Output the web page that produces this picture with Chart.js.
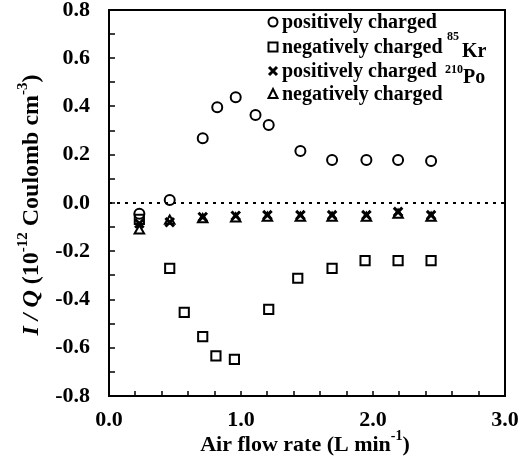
<!DOCTYPE html>
<html>
<head>
<meta charset="utf-8">
<script src="https://cdn.jsdelivr.net/npm/chart.js@4.4.1/dist/chart.umd.min.js"></script>
<style>
  html, body { margin: 0; padding: 0; background: #fff; }
  #wrap { width: 524px; height: 474px; }
</style>
</head>
<body>
<div id="wrap"><canvas id="grafico" width="524" height="474"></canvas></div>
<script>
// datos (I/Q vs caudal de aire)
const xPosKr = [0.23, 0.46, 0.71, 0.82, 0.96, 1.11, 1.21, 1.45, 1.69, 1.95, 2.19, 2.44];
const yPosKr = [-0.045, 0.012, 0.268, 0.397, 0.438, 0.365, 0.323, 0.216, 0.178, 0.178, 0.178, 0.174];

const xNegKr = [0.23, 0.46, 0.57, 0.71, 0.81, 0.95, 1.21, 1.43, 1.69, 1.94, 2.19, 2.44];
const yNegKr = [-0.068, -0.271, -0.453, -0.554, -0.634, -0.648, -0.441, -0.312, -0.271, -0.239, -0.239, -0.239];

const xPosPo = [0.23, 0.46, 0.71, 0.96, 1.2, 1.45, 1.69, 1.95, 2.19, 2.44];
const yPosPo = [-0.085, -0.08, -0.058, -0.053, -0.05, -0.05, -0.05, -0.05, -0.037, -0.05];

const xNegPo = [0.23, 0.46, 0.71, 0.96, 1.2, 1.45, 1.69, 1.95, 2.19, 2.44];
const yNegPo = [-0.115, -0.075, -0.068, -0.065, -0.062, -0.062, -0.062, -0.062, -0.05, -0.062];

const lineaCero = [0, 3];

const FUENTE = "'Liberation Serif', 'Times New Roman', serif";

function puntos(xs, ys) {
  return xs.map((x, i) => ({ x: x, y: ys[i] }));
}

// dibuja texto con superindices, centrado en el origen actual
function dibujarRuns(ctx, runs, size) {
  let total = 0;
  runs.forEach(r => {
    ctx.font = (r.italic ? "italic " : "") + "bold " + (r.sup ? Math.round(size * 0.62) : size) + "px " + FUENTE;
    r.w = ctx.measureText(r.t).width;
    total += r.w;
  });
  let x = -total / 2;
  runs.forEach(r => {
    ctx.font = (r.italic ? "italic " : "") + "bold " + (r.sup ? Math.round(size * 0.62) : size) + "px " + FUENTE;
    const dy = r.sup ? -size * 0.38 : 0;
    ctx.fillText(r.t, x, dy);
    x += r.w;
  });
}

function marcador(ctx, estilo, x, y) {
  ctx.save();
  ctx.strokeStyle = "#000";
  ctx.lineWidth = 2;
  ctx.beginPath();
  if (estilo === "circle") {
    ctx.arc(x, y, 4.5, 0, Math.PI * 2);
  } else if (estilo === "rect") {
    ctx.rect(x - 4.5, y - 4.5, 9, 9);
  } else if (estilo === "crossRot") {
    ctx.lineWidth = 3;
    ctx.moveTo(x - 4, y - 4); ctx.lineTo(x + 4, y + 4);
    ctx.moveTo(x + 4, y - 4); ctx.lineTo(x - 4, y + 4);
  } else if (estilo === "triangle") {
    ctx.moveTo(x, y - 5); ctx.lineTo(x + 4.5, y + 4); ctx.lineTo(x - 4.5, y + 4); ctx.closePath();
  }
  ctx.stroke();
  ctx.restore();
}

const pluginMarco = {
  id: "marco",
  afterDraw(chart) {
    const ctx = chart.ctx;
    const a = chart.chartArea;
    const sx = chart.scales.x;
    const sy = chart.scales.y;
    ctx.save();
    ctx.strokeStyle = "#000";
    ctx.lineWidth = 2;
    ctx.strokeRect(a.left, a.top, a.right - a.left, a.bottom - a.top);

    // marcas hacia adentro
    ctx.lineWidth = 1.5;
    ctx.beginPath();
    sx.ticks.forEach(t => {
      const px = Math.round(sx.getPixelForValue(t.value));
      ctx.moveTo(px, a.bottom);
      ctx.lineTo(px, a.bottom - 5);
    });
    sy.ticks.forEach(t => {
      const py = Math.round(sy.getPixelForValue(t.value));
      ctx.moveTo(a.left, py);
      ctx.lineTo(a.left + 6, py);
    });
    ctx.stroke();

    // titulos de ejes
    ctx.fillStyle = "#000";
    ctx.textBaseline = "middle";
    ctx.textAlign = "left";
    ctx.save();
    ctx.translate(305, 445);
    dibujarRuns(ctx, [
      { t: "Air flow rate (L min" },
      { t: "-1", sup: true },
      { t: ")" }
    ], 22);
    ctx.restore();

    ctx.save();
    ctx.translate(32, 205);
    ctx.rotate(-Math.PI / 2);
    dibujarRuns(ctx, [
      { t: "I / Q", italic: true },
      { t: " (10" },
      { t: "-12", sup: true },
      { t: " Coulomb cm" },
      { t: "-3", sup: true },
      { t: ")" }
    ], 24);
    ctx.restore();

    // leyenda
    const filas = [
      ["circle", "positively charged", 28],
      ["rect", "negatively charged", 53],
      ["crossRot", "positively charged", 77],
      ["triangle", "negatively charged", 100]
    ];
    ctx.textBaseline = "alphabetic";
    ctx.font = "bold 20px " + FUENTE;
    filas.forEach(f => {
      marcador(ctx, f[0], 273, f[2] - 6);
      ctx.fillText(f[1], 282, f[2]);
    });
    ctx.font = "bold 12px " + FUENTE;
    ctx.fillText("85", 447, 40);
    ctx.fillText("210", 445, 73);
    ctx.font = "bold 20px " + FUENTE;
    ctx.fillText("Kr", 462, 57);
    ctx.fillText("Po", 463, 83);
    ctx.restore();
  }
};

const sinPadding = s => {
  s.paddingTop = 0;
  s.paddingBottom = 0;
  s.paddingLeft = 0;
  s.paddingRight = 0;
};

const ctx = document.getElementById("grafico").getContext("2d");

const grafico = new Chart(ctx, {
  type: "scatter",
  data: {
    datasets: [
      {
        type: "line",
        data: lineaCero.map(x => ({ x: x, y: 0 })),
        borderColor: "#000",
        borderWidth: 2,
        borderDash: [3, 5],
        pointRadius: 0
      },
      {
        label: "positively charged 85Kr",
        data: puntos(xPosKr, yPosKr),
        pointStyle: "circle",
        radius: 5,
        borderWidth: 2,
        borderColor: "#000",
        backgroundColor: "rgba(0,0,0,0)"
      },
      {
        label: "negatively charged 85Kr",
        data: puntos(xNegKr, yNegKr),
        pointStyle: "rect",
        radius: 6.5,
        borderWidth: 2,
        borderColor: "#000",
        backgroundColor: "rgba(0,0,0,0)"
      },
      {
        label: "positively charged 210Po",
        data: puntos(xPosPo, yPosPo),
        pointStyle: "crossRot",
        radius: 6,
        borderWidth: 3,
        borderColor: "#000",
        backgroundColor: "rgba(0,0,0,0)"
      },
      {
        label: "negatively charged 210Po",
        data: puntos(xNegPo, yNegPo),
        pointStyle: "triangle",
        radius: 5.5,
        borderWidth: 2,
        borderColor: "#000",
        backgroundColor: "rgba(0,0,0,0)"
      }
    ]
  },
  options: {
    responsive: false,
    animation: false,
    layout: { autoPadding: false, padding: { top: 10, right: 19, left: 0, bottom: 0 } },
    plugins: { legend: { display: false }, tooltip: { enabled: false } },
    scales: {
      x: {
        type: "linear",
        min: 0,
        max: 3,
        afterFit: s => { s.height = 78; sinPadding(s); },
        grid: { display: false, drawTicks: false },
        border: { display: false },
        ticks: {
          stepSize: 0.2,
          autoSkip: false,
          maxRotation: 0,
          padding: 11,
          color: "#000",
          font: { family: FUENTE, size: 22, weight: "bold" },
          callback: v => {
            const r = Math.round(v * 10);
            return r % 10 === 0 ? (r / 10).toFixed(1) : "";
          }
        }
      },
      y: {
        min: -0.8,
        max: 0.8,
        afterFit: s => { s.width = 109; sinPadding(s); },
        grid: { display: false, drawTicks: false },
        border: { display: false },
        ticks: {
          stepSize: 0.1,
          autoSkip: false,
          padding: 19,
          color: "#000",
          font: { family: FUENTE, size: 22, weight: "bold" },
          callback: v => {
            const r = Math.round(v * 10);
            return r % 2 === 0 ? (r / 10).toFixed(1) : "";
          }
        }
      }
    }
  },
  plugins: [pluginMarco]
});
</script>
</body>
</html>
